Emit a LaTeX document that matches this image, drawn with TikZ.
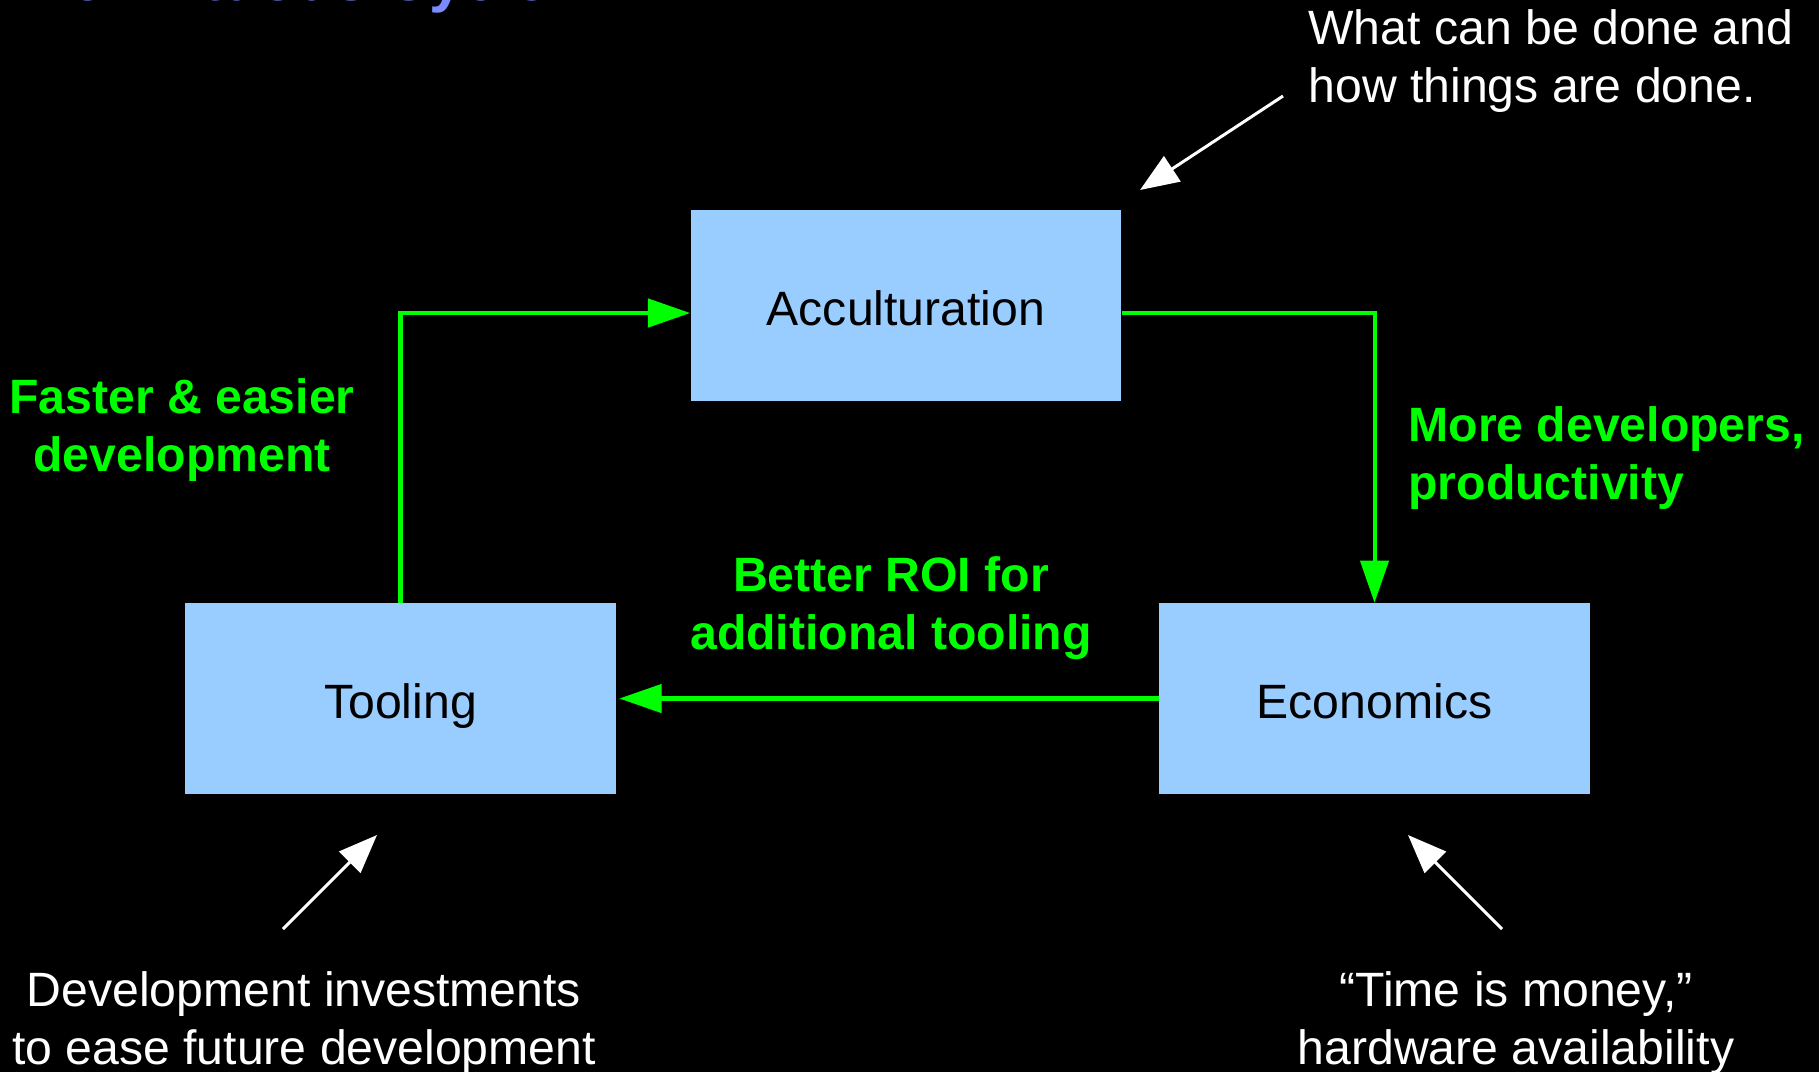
\documentclass[tikz,border=0pt]{standalone}
\usepackage{fontspec}
\setmainfont{Liberation Sans}
\usetikzlibrary{arrows.meta}

\definecolor{boxblue}{HTML}{99CCFF}
\definecolor{titleblue}{HTML}{7B8BFF}
\definecolor{loopgreen}{HTML}{00FF00}

\tikzset{
  stage/.style={fill=boxblue, text=black, minimum width=4.3cm, minimum height=1.9cm, inner sep=0pt, text height=14pt, text depth=2.5pt},
  loop/.style={draw=loopgreen, line width=1.15pt, -{Triangle[length=12pt, width=8pt]}},
  hint/.style={draw=white, line width=0.85pt, -{Triangle[length=11pt, width=8.5pt]}},
  note/.style={text=white, align=center},
  gain/.style={text=loopgreen, font=\fontsize{13.7}{16.6}\selectfont\bfseries, align=center},
}

\begin{document}
\begin{tikzpicture}[x=0.01cm, y=-0.01cm, font=\fontsize{13.7}{16.6}\selectfont]
  \fill [black] (0, 0) rectangle (1819, 1072);
  \useasboundingbox (0, 0) rectangle (1819, 1072);
  \clip (0, 0) rectangle (1819, 1072);

  % title, mostly above the page
  \node [anchor=base west, inner sep=0pt, text=titleblue, font=\fontsize{17.4}{20}\selectfont\bfseries] (title) at (-5, 0) {The Virtuous Cycle};

  % the three stages
  \node [stage] (acc) at (906, 305.5) {Acculturation};
  \node [stage] (tool) at (400.5, 698.5) {Tooling};
  \node [stage] (econ) at (1374.5, 698.5) {Economics};

  % the loop
  \draw [loop] (tool.north) |- ([yshift=-0.075cm]acc.west);
  \draw [loop] ([yshift=-0.075cm]acc.east) -| (econ.north);
  \draw [loop] (econ.west) -- ([xshift=0.03cm]tool.east);

  \node [gain] (faster) at (182, 430) {Faster \& easier\\development};
  \node [gain, align=left, anchor=west] (more) at (1396, 458) {More developers,\\productivity};
  \node [gain] (roi) at (891, 608) {Better ROI for\\additional tooling};

  % outside influences
  \node [note, align=left, anchor=west] (what) at (1296, 61) {What can be done and\\how things are done.};
  \node [note] (invest) at (304, 1023) {Development investments\\to ease future development};
  \node [note] (money) at (1516, 1023) {“Time is money,”\\hardware availability};

  \coordinate (what-from) at (1283, 96);
  \coordinate (what-to) at (1140, 190);
  \coordinate (invest-from) at (283, 929);
  \coordinate (invest-to) at (377, 835);
  \coordinate (money-from) at (1502, 929);
  \coordinate (money-to) at (1408, 835);
  \draw [hint] (what-from) -- (what-to);
  \draw [hint] (invest-from) -- (invest-to);
  \draw [hint] (money-from) -- (money-to);
\end{tikzpicture}
\end{document}
